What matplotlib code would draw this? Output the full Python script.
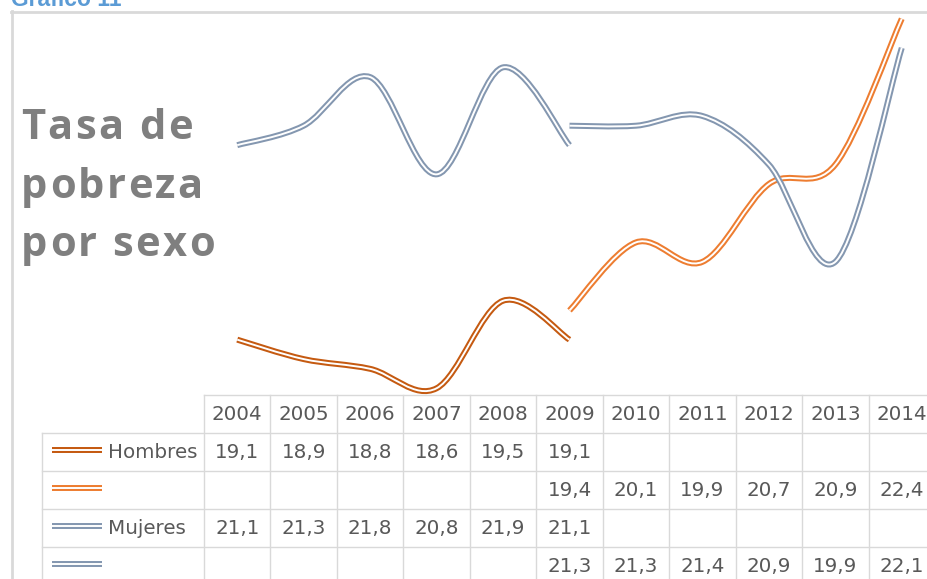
import numpy as np
import matplotlib
matplotlib.use("Agg")
import matplotlib.pyplot as plt
from matplotlib.path import Path
from matplotlib.patches import PathPatch
from matplotlib.lines import Line2D
from matplotlib.font_manager import FontProperties, findfont
from matplotlib.ft2font import FT2Font

# data (tasa de pobreza, %)
years = [2004, 2005, 2006, 2007, 2008, 2009, 2010, 2011, 2012, 2013, 2014]
hombres = [19.1, 18.9, 18.8, 18.6, 19.5, 19.1, None, None, None, None, None]
hombres_b = [None, None, None, None, None, 19.4, 20.1, 19.9, 20.7, 20.9, 22.4]
mujeres = [21.1, 21.3, 21.8, 20.8, 21.9, 21.1, None, None, None, None, None]
mujeres_b = [None, None, None, None, None, 21.3, 21.3, 21.4, 20.9, 19.9, 22.1]

series = [
    ("Hombres", hombres, "#C55A11"),
    ("", hombres_b, "#ED7D31"),
    ("Mujeres", mujeres, "#8497B0"),
    ("", mujeres_b, "#8497B0"),
]

W, H = 928, 579
TXT = "#595959"
GRID = "#D9D9D9"
LW_OUT, LW_IN = 4.3, 1.4
FS = 14.3


def smooth_path(xs, ys):
    # excel-like smoothed line (catmull-rom as cubic bezier)
    pts = np.column_stack([xs, ys]).astype(float)
    n = len(pts)
    verts = [pts[0]]
    codes = [Path.MOVETO]
    for i in range(n - 1):
        p0 = pts[max(i - 1, 0)]
        p1 = pts[i]
        p2 = pts[i + 1]
        p3 = pts[min(i + 2, n - 1)]
        verts += [p1 + (p2 - p0) / 6, p2 - (p3 - p1) / 6, p2]
        codes += [Path.CURVE4] * 3
    return Path(verts, codes)


def double_line(ax, path, color):
    ax.add_patch(PathPatch(path, fill=False, ec=color, lw=LW_OUT, capstyle="butt", clip_on=False))
    ax.add_patch(PathPatch(path, fill=False, ec="white", lw=LW_IN, capstyle="butt", clip_on=False))


def spaced_text(fig, x_px, y_px, s, size, spacing_px, **kw):
    # draw char by char to get the letter spacing of the original
    fp = FontProperties(family="Open Sans", weight="bold", size=size)
    font = FT2Font(findfont(fp))
    font.set_size(size, 100)
    x = x_px
    for c in s:
        if c != " ":
            fig.text(x / W, 1 - y_px / H, c, fontproperties=fp, ha="left", va="baseline", **kw)
        x += font.load_char(ord(c)).linearHoriAdvance / 65536 + spacing_px


fig = plt.figure(figsize=(W / 100, H / 100), dpi=100)

# chart frame (cut at right and bottom)
fig.add_artist(Line2D([11 / W, 1.02], [1 - 12 / H, 1 - 12 / H], color=GRID, lw=2))
fig.add_artist(Line2D([12 / W, 12 / W], [1 - 11 / H, -0.02], color=GRID, lw=2))

fig.text(11 / W, 1 - 6 / H, "Gráfico 11", color="#5B9BD5", fontsize=16.5,
         family="Liberation Sans", weight="bold", ha="left", va="baseline")

# big title
for k, line in enumerate(["Tasa de", "pobreza", "por sexo"]):
    spaced_text(fig, 21, 139 + 58.5 * k, line, 30, 2.4, color="#7F7F7F")

# lines
ax = fig.add_axes([204 / W, 1 - 398 / H, (935 - 204) / W, (398 - 9) / H])
ax.set_xlim(-0.5, 10.5)
ax.set_ylim(18.5, 22.5)
ax.axis("off")
for label, vals, color in series:
    idx = [i for i, v in enumerate(vals) if v is not None]
    double_line(ax, smooth_path(idx, [vals[i] for i in idx]), color)

# data table
tax = fig.add_axes([42 / W, 1 - 585 / H, (935 - 42) / W, (585 - 395) / H])
col_w = (935 - 204) / 11
left = -0.5 - (204 - 42) / col_w
tax.set_xlim(left, 10.5)
tax.set_ylim(5, 0)
tax.axis("off")

kw = dict(color=GRID, lw=1, clip_on=False)
tax.plot([-0.5, 10.5], [0, 0], **kw)
for k in range(12):
    tax.plot([-0.5 + k] * 2, [0, 5], **kw)
for r in range(1, 5):
    tax.plot([left, 10.5], [r, r], **kw)
tax.plot([left, left], [1, 5], **kw)

for i, y in enumerate(years):
    tax.text(i, 0.52, str(y), ha="center", va="center", fontsize=FS, color=TXT)

for r, (label, vals, color) in enumerate(series, start=1):
    yk = r + 0.45
    tax.plot([left + 0.15, left + 0.9], [yk, yk], color=color, lw=LW_OUT, solid_capstyle="butt")
    tax.plot([left + 0.15, left + 0.9], [yk, yk], color="white", lw=LW_IN, solid_capstyle="butt")
    tax.text(left + 0.99, r + 0.5, label, ha="left", va="center", fontsize=FS, color=TXT)
    for i, v in enumerate(vals):
        if v is not None:
            tax.text(i, r + 0.5, f"{v:.1f}".replace(".", ","), ha="center", va="center",
                     fontsize=FS, color=TXT)

fig.savefig("out.png", dpi=100)
